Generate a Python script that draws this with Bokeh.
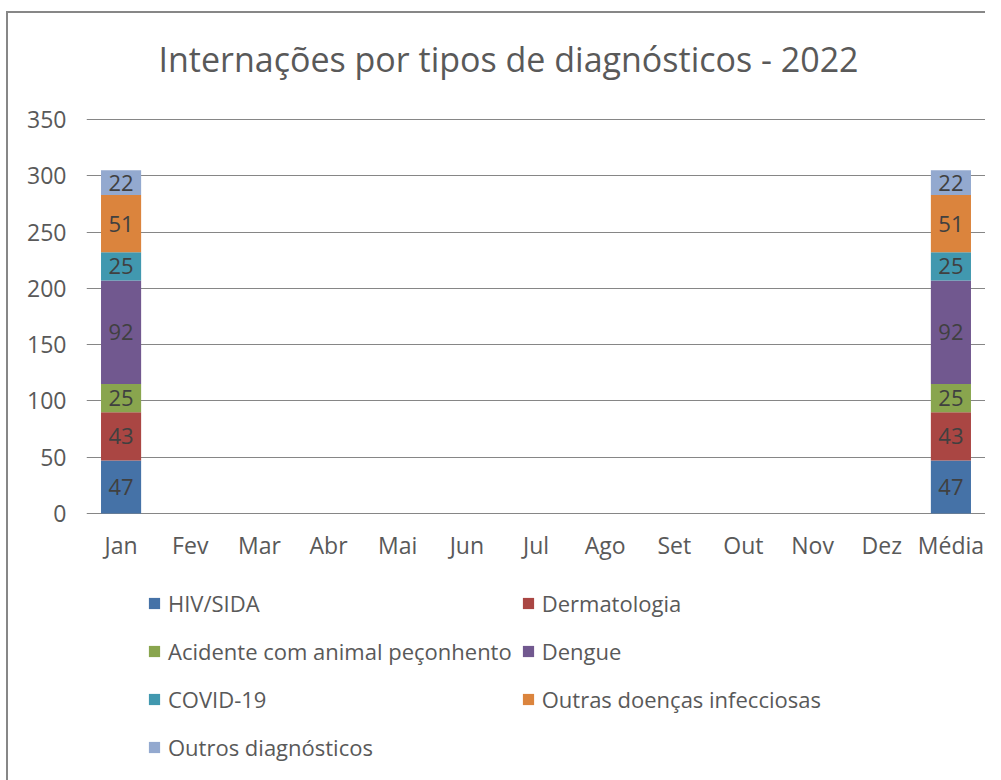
from bokeh.plotting import figure
from bokeh.models import ColumnDataSource, Legend, LegendItem, LabelSet, FixedTicker, Range1d, Label
from bokeh.core.properties import value
from bokeh.embed import file_html
from bokeh.resources import INLINE

title_text = "Internações por tipos de diagnósticos - 2022"
months = ["Jan", "Fev", "Mar", "Abr", "Mai", "Jun", "Jul", "Ago", "Set", "Out", "Nov", "Dez", "Média"]
series_names = ["HIV/SIDA", "Dermatologia", "Acidente com animal peçonhento", "Dengue",
                "COVID-19", "Outras doenças infecciosas", "Outros diagnósticos"]
hiv =      [47, 0, 0, 0, 0, 0, 0, 0, 0, 0, 0, 0, 47]
derma =    [43, 0, 0, 0, 0, 0, 0, 0, 0, 0, 0, 0, 43]
acidente = [25, 0, 0, 0, 0, 0, 0, 0, 0, 0, 0, 0, 25]
dengue =   [92, 0, 0, 0, 0, 0, 0, 0, 0, 0, 0, 0, 92]
covid =    [25, 0, 0, 0, 0, 0, 0, 0, 0, 0, 0, 0, 25]
outras =   [51, 0, 0, 0, 0, 0, 0, 0, 0, 0, 0, 0, 51]
outros =   [22, 0, 0, 0, 0, 0, 0, 0, 0, 0, 0, 0, 22]
y_ticks = [0, 50, 100, 150, 200, 250, 300, 350]

colors = ["#4572A7", "#AA4643", "#89A54E", "#71588F", "#4198AF", "#DB843D", "#93A9CF"]
FONT = "Open Sans"
TXT = "#595959"

keys = ["s%d" % i for i in range(7)]
all_series = [hiv, derma, acidente, dengue, covid, outras, outros]
data = {"m": months}
for k, s in zip(keys, all_series):
    data[k] = s
source = ColumnDataSource(data)

# the frame covers the whole canvas, so title and legend (drawn inside it) are not clipped
PX_PER_UNIT = 395 / 350.9
FRAME_H = 767
TOP_SPACE = 105      # pixels above the 350.9 level
y_end = 350.9 + TOP_SPACE / PX_PER_UNIT
y_start = -(FRAME_H - TOP_SPACE - 395) / PX_PER_UNIT

p = figure(x_range=months, y_range=Range1d(y_start, y_end), frame_width=899, frame_height=FRAME_H,
           output_backend="svg", toolbar_location=None,
           min_border_left=78, min_border_right=0, min_border_top=0, min_border_bottom=0)
p.styles = {"border-left": "2px solid #878787", "border-top": "2px solid #878787",
            "margin-left": "6px", "margin-top": "11px"}

p.add_layout(Label(x=72, y=722, x_units="screen", y_units="screen", text=title_text,
                   text_font=FONT, text_font_size="34px", text_color=TXT,
                   text_align="left", text_baseline="alphabetic"))

renderers = p.vbar_stack(keys, x="m", width=0.58, color=colors, source=source, line_color=None)

for i, k in enumerate(keys):
    xs, ys, ts = [], [], []
    for j, m in enumerate(months):
        v = all_series[i][j]
        if v:
            base = sum(all_series[q][j] for q in range(i))
            xs.append(m); ys.append(base + v / 2); ts.append(str(v))
    ls = ColumnDataSource(dict(x=xs, y=ys, t=ts))
    p.add_layout(LabelSet(x="x", y="y", text="t", source=ls, text_align="center",
                          text_baseline="middle", text_font=value(FONT),
                          text_font_size="22px", text_color="#404040"))

# category labels under the zero line
p.text(x=months, y=[0] * len(months), text=months, y_offset=31, text_align="center",
       text_baseline="middle", text_font=value(FONT), text_font_size="23px", text_color=TXT)

p.xaxis.visible = False
p.xgrid.grid_line_color = None
p.ygrid.grid_line_color = "#868686"
p.ygrid.ticker = FixedTicker(ticks=y_ticks)
p.yaxis.ticker = FixedTicker(ticks=y_ticks)
p.yaxis.axis_line_color = None
p.yaxis.major_tick_line_color = None
p.yaxis.minor_tick_line_color = None
p.yaxis.major_tick_out = 0
p.yaxis.major_label_standoff = 20
p.yaxis.major_label_text_font = FONT
p.yaxis.major_label_text_font_size = "23px"
p.yaxis.major_label_text_color = TXT
p.outline_line_color = None
p.x_range.range_padding = 0

items = [LegendItem(label=n, renderers=[r]) for n, r in zip(series_names, renderers)]
legend = Legend(items=items, ncols=2, location=(61, 14), orientation="horizontal",
                label_text_font=FONT, label_text_font_size="22px", label_text_color=TXT,
                glyph_width=14, glyph_height=14, label_standoff=7, spacing=9, label_height=39,
                border_line_color=None, background_fill_alpha=0, padding=0, margin=0)
p.add_layout(legend, "center")

open("out.html", "w").write(file_html(p, INLINE))
